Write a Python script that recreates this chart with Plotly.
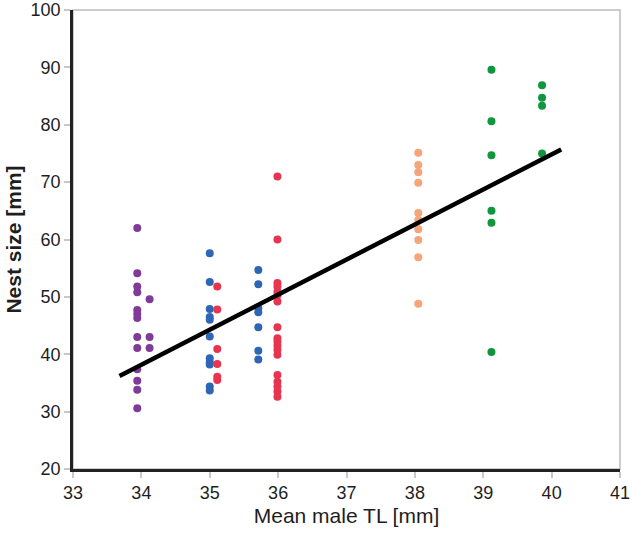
import plotly.graph_objects as go

# Nest size vs mean male TL, per population
purple_x = [33.94] * 13 + [34.12] * 3
purple_y = [62.0, 54.1, 51.8, 50.8, 47.7, 47.0, 46.3, 43.0, 41.1, 37.4, 35.4, 33.8, 30.6,
            49.6, 43.0, 41.1]

blue_x = [35.0] * 11 + [35.71] * 7
blue_y = [57.6, 52.6, 47.9, 46.5, 46.0, 43.1, 39.3, 38.6, 38.2, 34.4, 33.7,
          54.7, 52.2, 48.0, 47.3, 44.7, 40.6, 39.1]

red_x = [35.11] * 6 + [35.99] * 18
red_y = [51.8, 47.8, 40.9, 38.3, 36.1, 35.5,
         71.0, 60.0, 52.4, 51.8, 50.9, 50.3, 49.2, 44.7, 42.8, 42.2, 41.5, 40.8,
         39.9, 36.4, 35.2, 34.4, 33.5, 32.6]

orange_x = [38.05] * 10
orange_y = [75.1, 73.0, 71.7, 69.9, 64.6, 63.4, 61.8, 59.9, 56.9, 48.8]

green_x = [39.12] * 6 + [39.86] * 4
green_y = [89.6, 80.6, 74.7, 65.0, 62.9, 40.4, 86.9, 84.7, 83.3, 75.0]

fit_x = [33.68, 40.14]
fit_y = [36.2, 75.7]

groups = [
    (purple_x, purple_y, "#7f3b9a"),
    (blue_x, blue_y, "#2e66b5"),
    (red_x, red_y, "#e8354f"),
    (orange_x, orange_y, "#f4a57a"),
    (green_x, green_y, "#10963c"),
]

fig = go.Figure()
for xs, ys, color in groups:
    fig.add_trace(go.Scatter(x=xs, y=ys, mode="markers",
                             marker=dict(size=8, color=color), showlegend=False))

fig.add_trace(go.Scatter(x=fit_x, y=fit_y, mode="lines",
                         line=dict(color="black", width=4.5), showlegend=False))

# gray frame on top / right
fig.add_shape(type="rect", xref="paper", yref="paper", x0=0, y0=0, x1=1, y1=1,
              line=dict(color="#bdbdbd", width=1.5), layer="below")

fig.update_layout(
    width=633, height=536,
    margin=dict(l=73, r=13, t=10, b=67),
    plot_bgcolor="white", paper_bgcolor="white",
    font=dict(family="Liberation Sans, Arial", color="#1e1e1e"),
)
axis_style = dict(
    showgrid=False, zeroline=False, automargin=False,
    showline=True, linecolor="#222222", linewidth=2.5,
    ticks="outside", ticklen=6, tickcolor="#c8c8c8", tickwidth=1.5,
    tickfont=dict(size=18),
)
fig.update_xaxes(
    range=[33, 41], dtick=1, tick0=33, **axis_style,
    title=dict(text="Mean male TL [mm]", font=dict(size=21), standoff=6),
)
fig.update_yaxes(
    range=[20, 100], dtick=10, **axis_style,
    title=dict(text="<b>Nest size [mm]</b>", font=dict(size=21), standoff=4),
)

fig.write_html("out.html", config={"displayModeBar": False},
               post_script="document.body.style.margin='0';")
